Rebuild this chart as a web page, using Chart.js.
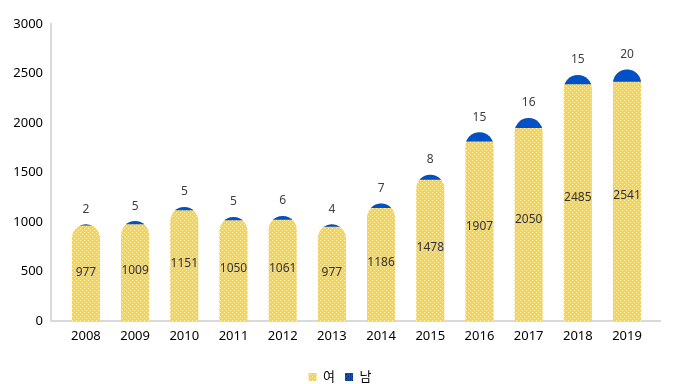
<!DOCTYPE html>
<html><head><meta charset="utf-8">
<script src="https://cdn.jsdelivr.net/npm/chart.js@4.4.1/dist/chart.umd.min.js"></script>
<style>html,body{margin:0;padding:0;background:#fff}#wrap{width:680px;height:384px}</style>
</head><body><div id="wrap"><canvas id="c" width="680" height="384"></canvas></div>
<script>
const years = ['2008','2009','2010','2011','2012','2013','2014','2015','2016','2017','2018','2019'];
const female = [977,1009,1151,1050,1061,977,1186,1478,1907,2050,2485,2541];
const male = [2,5,5,5,6,4,7,8,15,16,15,20];
const seriesNames = ['여','남'];
const yMin = 0, yMax = 3000, yStep = 500;

const FONT = "'Noto Sans','Noto Sans CJK KR',sans-serif";

function makePattern(bg, dot) {
  const c = document.createElement('canvas'); c.width = 4; c.height = 4;
  const g = c.getContext('2d');
  g.fillStyle = bg; g.fillRect(0,0,4,4);
  g.fillStyle = dot; g.fillRect(0,0,1,1); g.fillRect(2,2,1,1);
  return g.createPattern(c, 'repeat');
}
const yellowPat = makePattern('#FFD23F', '#FFF4CC');
const bluePat = makePattern('#0050C8', '#001A55');

const capPlugin = {
  id: 'cap',
  beforeDatasetDraw(chart, args) {
    if (args.index !== 1) return;
    const ctx = chart.ctx, s = chart.scales.yCap;
    ctx.save(); ctx.beginPath();
    args.meta.data.forEach((bar, i) => {
      const h = s.getPixelForValue(0) - s.getPixelForValue(male[i]);
      ctx.rect(bar.x - bar.width/2 - 1, bar.y - 1, bar.width + 2, h + 1);
    });
    ctx.clip();
  },
  afterDatasetDraw(chart, args) { if (args.index === 1) chart.ctx.restore(); }
};

const labelPlugin = {
  id: 'labels',
  afterDatasetsDraw(chart) {
    const ctx = chart.ctx;
    const m0 = chart.getDatasetMeta(0), m1 = chart.getDatasetMeta(1);
    ctx.save();
    ctx.font = '12px ' + FONT;
    ctx.textAlign = 'center'; ctx.textBaseline = 'middle';
    m0.data.forEach((bar, i) => {
      ctx.fillStyle = '#333333';
      ctx.fillText(String(female[i]), bar.x, (bar.y + bar.base) / 2);
    });
    m1.data.forEach((bar, i) => {
      ctx.fillStyle = '#404040';
      ctx.fillText(String(male[i]), bar.x, bar.y - 15);
    });
    ctx.restore();
  }
};

new Chart(document.getElementById('c'), {
  type: 'bar',
  data: {
    datasets: [
      { label: seriesNames[0], data: female.map((v,i)=>({x:i, y:v})), backgroundColor: yellowPat,
        borderRadius: {topLeft: 30, topRight: 30, bottomLeft: 0, bottomRight: 0}, borderSkipped: 'start', order: 1 },
      { label: seriesNames[1], data: female.map((v,i)=>({x:i, y:v})), backgroundColor: '#0050C8',
        borderRadius: {topLeft: 30, topRight: 30, bottomLeft: 0, bottomRight: 0}, borderSkipped: 'start', order: 0 }
    ]
  },
  options: {
    responsive: false, animation: false,
    layout: { padding: { left: 0, right: 0, top: 24, bottom: -9.5 } },
    datasets: { bar: { grouped: false, barPercentage: 0.57, categoryPercentage: 1 } },
    scales: {
      x: {
        type: 'linear', min: -0.71, max: 11.67, offset: false,
        grid: { display: false, drawTicks: false, offset: false },
        border: { color: '#D9D9D9', width: 2 },
        ticks: { stepSize: 1, includeBounds: false, autoSkip: false, maxRotation: 0, maxTicksLimit: 30, padding: 7,
                 color: '#000', font: { family: FONT, size: 13 },
                 callback: (v) => (Number.isInteger(v) && years[v] !== undefined) ? years[v] : '' },
        afterFit: (s) => { s.height = 39.5; }
      },
      y: {
        min: yMin, max: yMax,
        grid: { display: false, drawTicks: false },
        border: { color: '#D9D9D9', width: 2 },
        ticks: { stepSize: yStep, padding: 8, color: '#000', font: { family: FONT, size: 13 },
                 callback: (v) => String(v) },
        afterFit: (s) => { s.width = 51; }
      },
      yCap: { type: 'linear', position: 'right', display: true, min: 0, max: 480,
              grid: { display: false, drawTicks: false }, border: { display: false },
              ticks: { display: false },
              afterFit: (s) => { s.width = 20; } }
    },
    plugins: {
      tooltip: { enabled: false },
      legend: {
        position: 'bottom',
        labels: {
          boxWidth: 8, boxHeight: 8, padding: 10, color: '#000', font: { family: FONT, size: 13 },
          generateLabels: (chart) => seriesNames.map((n, i) => ({
            text: n, fillStyle: i === 0 ? yellowPat : bluePat, strokeStyle: 'rgba(0,0,0,0)', lineWidth: 0,
            hidden: false, datasetIndex: i, fontColor: '#000'
          }))
        }
      }
    }
  },
  plugins: [capPlugin, labelPlugin]
});
</script></body></html>
